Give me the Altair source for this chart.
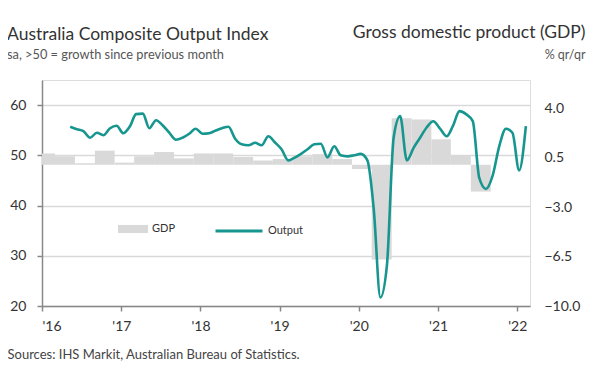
import altair as alt
import pandas as pd

FONT = "Lato"

# Monthly composite output index, May 2016 - Feb 2022
output_values = [
    55.7, 55.2, 54.8, 53.5, 54.5, 54.0, 55.4, 55.9,                          # 2016 May-Dec
    54.4, 55.8, 58.2, 58.3, 55.4, 57.0, 56.0, 54.5, 53.1, 53.5, 54.3, 55.3,  # 2017
    54.3, 54.4, 54.9, 55.4, 55.7, 53.3, 52.2, 52.0, 52.5, 52.0, 53.8, 52.6,  # 2018
    51.2, 49.0, 49.5, 50.3, 51.2, 52.2, 52.3, 49.6, 51.8, 50.0, 49.8, 50.0,  # 2019
    50.3, 49.0, 39.4, 21.7, 28.1, 53.5, 57.8, 49.0, 51.5, 53.5, 55.6, 56.8,  # 2020
    55.3, 53.8, 55.8, 58.8, 58.2, 56.8, 45.5, 43.3, 46.0, 51.8, 55.3, 54.5,  # 2021
    47.0, 55.8,                                                              # 2022 Jan-Feb
]
output_months = pd.date_range("2016-05-01", periods=len(output_values), freq="MS") + pd.Timedelta(days=9)

# Quarterly GDP, % q/q, Q1 2016 - Q3 2021
gdp_values = [
    0.8, 0.6, 0.1, 1.0,
    0.15, 0.6, 0.9, 0.45,
    0.8, 0.8, 0.55, 0.3,
    0.4, 0.6, 0.75, 0.4,
    -0.3, -6.7, 3.3, 3.2,
    1.8, 0.65, -1.9,
]
quarter_ends = pd.date_range("2016-03-01", periods=len(gdp_values), freq="3MS")
quarter_starts = quarter_ends - pd.DateOffset(months=3)

out_df = pd.DataFrame({"date": output_months, "value": output_values, "series": "Output"})
gdp_df = pd.DataFrame({"start": quarter_starts, "end": quarter_ends, "gdp": gdp_values, "series": "GDP"})

year_ticks = [alt.DateTime(year=y, month=1, date=1) for y in range(2016, 2023)]
x_scale = alt.Scale(domain=[alt.DateTime(year=2016, month=1, date=1), alt.DateTime(year=2022, month=3, date=1)])

x_axis = alt.Axis(
    values=year_ticks, format="'%y", grid=False,
    labelFont=FONT, labelFontSize=14, labelColor="#333", labelPadding=8,
    tickSize=5, tickColor="#888", tickWidth=1.5, domainColor="#888", domainWidth=1.5,
    title="Sources: IHS Markit, Australian Bureau of Statistics.",
    titleX=-35, titleY=52, titleAlign="left", titleAnchor="start", titleBaseline="alphabetic",
    titleFont=FONT, titleFontSize=13, titleFontWeight="normal", titleColor="#444",
)

right_axis = alt.Axis(
    orient="right", values=[4.0, 0.5, -3.0, -6.5, -10.0], format=".1f",
    grid=False, ticks=False, domain=False,
    labelFont=FONT, labelFontSize=14, labelColor="#333", labelPadding=14,
    title="Gross domestic product (GDP)", titleAngle=0, titleAlign="right",
    titleBaseline="alphabetic", titleX=55, titleY=-43,
    titleFont=FONT, titleFontSize=17.5, titleFontWeight="normal", titleColor="#333",
)

left_axis = alt.Axis(
    orient="left", values=[20, 30, 40, 50, 60], grid=True, gridColor="#d9d9d9", gridWidth=1.5,
    domainColor="#888", domainWidth=1.5, tickColor="#888", tickWidth=1.5, tickSize=5,
    labelFont=FONT, labelFontSize=14, labelColor="#333", labelPadding=11,
    title="% qr/qr", titleAngle=0, titleAlign="right", titleBaseline="alphabetic",
    titleX=543, titleY=-22,
    titleFont=FONT, titleFontSize=12.5, titleFontWeight="normal", titleColor="#555",
)

bars = alt.Chart(gdp_df).mark_rect(clip=True).encode(
    x=alt.X("start:T", scale=x_scale, axis=x_axis),
    x2="end:T",
    y=alt.Y("gdp:Q", scale=alt.Scale(domain=[-10, 6], nice=False, zero=False), axis=right_axis),
    y2=alt.datum(0),
    fill=alt.Fill(
        "series:N", scale=alt.Scale(domain=["GDP"], range=["#d9d9d9"]),
        legend=alt.Legend(
            orient="none", legendX=76, legendY=134, title=None,
            symbolType="M-1,-0.27H1V0.27H-1Z", symbolSize=900, symbolStrokeWidth=0,
            labelFont=FONT, labelFontSize=11, labelColor="#333", padding=0, labelOffset=4,
        ),
    ),
)

line = alt.Chart(out_df).mark_line(interpolate="monotone", strokeWidth=2.6, clip=True).encode(
    x=alt.X("date:T", scale=x_scale, axis=x_axis),
    y=alt.Y("value:Q", scale=alt.Scale(domain=[20, 65], nice=False, zero=False), axis=left_axis),
    stroke=alt.Stroke(
        "series:N", scale=alt.Scale(domain=["Output"], range=["#16968e"]),
        legend=alt.Legend(
            orient="none", legendX=172, legendY=126, title=None,
            symbolType="stroke", symbolSize=2209, symbolStrokeWidth=3,
            labelFont=FONT, labelFontSize=11, labelColor="#333", padding=0, labelOffset=4,
        ),
    ),
)

chart = alt.layer(bars, line).resolve_scale(y="independent").properties(
    width=488, height=226,
    autosize=alt.AutoSizeParams(type="none"),
    padding={"left": 34, "top": 72, "right": 62, "bottom": 70},
    title=alt.TitleParams(
        text="Australia Composite Output Index",
        subtitle="sa, >50 = growth since previous month",
        anchor="start", frame="group", dx=-35, dy=59, offset=20,
        font=FONT, fontSize=17.5, fontWeight="normal", color="#333",
        subtitleFont=FONT, subtitleFontSize=12.8, subtitleColor="#555", subtitlePadding=6,
    ),
).configure_view(stroke=None).configure(background="white")

chart.save("out.html", embed_options={"renderer": "svg", "actions": False})
